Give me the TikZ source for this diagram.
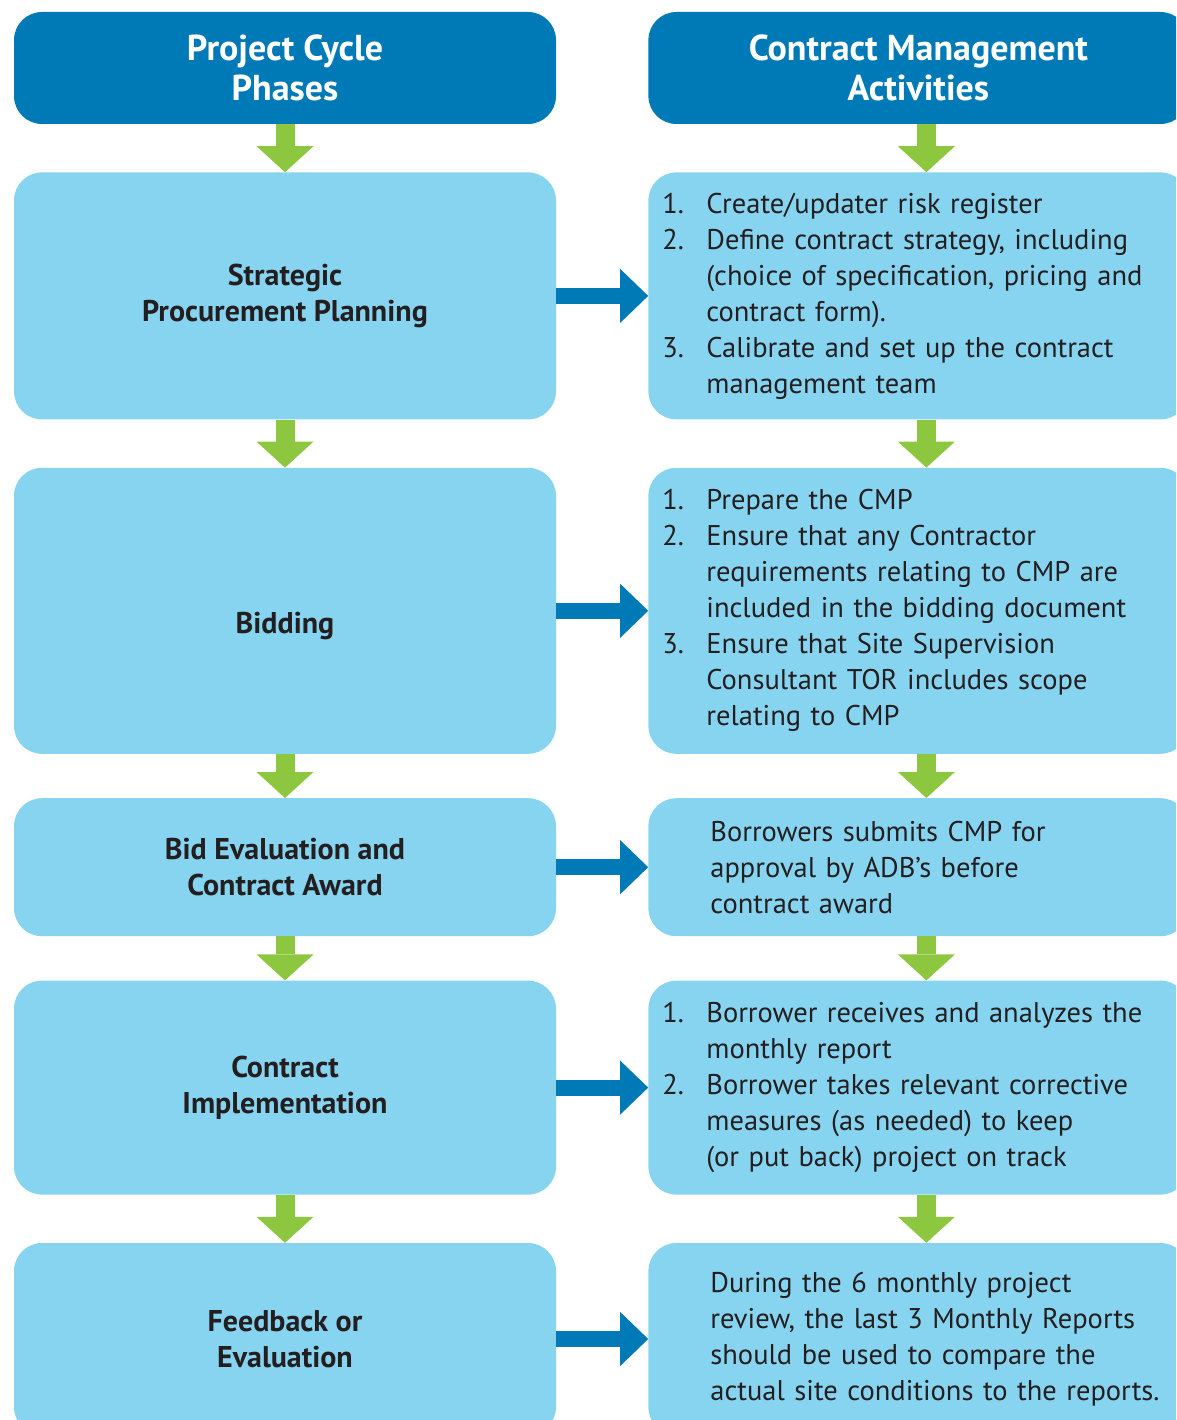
\documentclass[tikz,border=0pt]{standalone}
\usepackage{fontspec}
\setmainfont{PT Sans}
\usetikzlibrary{positioning, arrows.meta}

\definecolor{headblue}{RGB}{0,122,183}
\definecolor{boxblue}{RGB}{135,212,241}
\definecolor{flowgreen}{RGB}{141,198,63}
\definecolor{inkgray}{RGB}{35,31,32}

% Sangrías de las listas numeradas
\newcommand{\itemno}[1]{\makebox[44pt][l]{#1}}
\newcommand{\itemgap}{\hspace*{44pt}}
\newcommand{\plaingap}{\hspace*{48pt}}

\begin{document}
\begin{tikzpicture}[x=1pt, y=-1pt,
    head box/.style={
        fill=headblue, rounded corners=28pt, inner sep=0pt,
        minimum width=#1, minimum height=112pt, align=center,
        text=white, font=\fontsize{36}{40}\selectfont\bfseries
    },
    phase box/.style={
        fill=boxblue, rounded corners=28pt, inner sep=0pt,
        minimum width=542pt, minimum height=#1, align=center,
        text=inkgray, font=\fontsize{30}{36}\selectfont\bfseries
    },
    act box/.style={
        fill=boxblue, rounded corners=28pt, inner xsep=14pt, inner ysep=0pt,
        text width=512pt, minimum height=#1, align=left,
        text=inkgray, font=\fontsize{28.5}{36}\selectfont
    },
    down arrow/.style={draw=flowgreen, line width=19pt,
        -{Triangle[width=57pt, length=26pt, line width=0pt]}},
    side arrow/.style={draw=headblue, line width=16pt,
        -{Triangle[width=54pt, length=28pt, line width=0pt]}}
]

\useasboundingbox (0,0) rectangle (1176,1420);
\clip (0,0) rectangle (1176,1420);

% ------------------------------------------------------------------------------
% 1. ENCABEZADOS
% ------------------------------------------------------------------------------
\node[head box=542pt] (phead) at (285,68) {Project Cycle\\Phases};
\node[head box=540pt, right=92pt of phead] (ahead) {Contract Management\\Activities};

% ------------------------------------------------------------------------------
% 2. FASES DEL CICLO (columna izquierda)
% ------------------------------------------------------------------------------
\node[phase box=247pt, below=48pt of phead] (plan) {Strategic\\Procurement Planning};
\node[phase box=286pt, below=48pt of plan] (bid) {\raisebox{-15pt}[\height][\depth]{Bidding}};
\node[phase box=138pt, below=44pt of bid] (award) {Bid Evaluation and\\Contract Award};
\node[phase box=214pt, below=44pt of award] (impl) {Contract\\Implementation};
\node[phase box=192pt, below=48pt of impl] (fb) {Feedback or\\Evaluation};

% ------------------------------------------------------------------------------
% 3. ACTIVIDADES (columna derecha, alineada con cada fase)
% ------------------------------------------------------------------------------
\node[act box=247pt, right=92pt of plan] (risk) {%
    \itemno{1.}Create/updater risk register\\
    \itemno{2.}Define contract strategy, including\\
    \itemgap(choice of specification, pricing and\\
    \itemgap contract form).\\
    \itemno{3.}Calibrate and set up the contract\\
    \itemgap management team};
\node[act box=286pt, right=92pt of bid] (cmp) {%
    \itemno{1.}Prepare the CMP\\
    \itemno{2.}Ensure that any Contractor\\
    \itemgap requirements relating to CMP are\\
    \itemgap included in the bidding document\\
    \itemno{3.}Ensure that Site Supervision\\
    \itemgap Consultant TOR includes scope\\
    \itemgap relating to CMP};
\node[act box=138pt, right=92pt of award] (submit) {%
    \plaingap Borrowers submits CMP for\\
    \plaingap approval by ADB's before\\
    \plaingap contract award};
\node[act box=214pt, right=92pt of impl] (report) {%
    \itemno{1.}Borrower receives and analyzes the\\
    \itemgap monthly report\\
    \itemno{2.}Borrower takes relevant corrective\\
    \itemgap measures (as needed) to keep\\
    \itemgap(or put back) project on track};
\node[act box=192pt, right=92pt of fb] (review) {%
    \plaingap During the 6 monthly project\\
    \plaingap review, the last 3 Monthly Reports\\
    \plaingap should be used to compare the\\
    \plaingap actual site conditions to the reports.};

% ------------------------------------------------------------------------------
% 4. FLECHAS (bucles)
% ------------------------------------------------------------------------------
\foreach \a/\b in {phead/plan, plan/bid, bid/award, award/impl, impl/fb} {
    \draw[down arrow] (\a.south) -- (\b.north);
}
\foreach \a/\b in {ahead/risk, risk/cmp, cmp/submit, submit/report, report/review} {
    \draw[down arrow] ([xshift=8pt]\a.south) -- ([xshift=8pt]\b.north);
}
\foreach \a/\b in {plan/risk, bid/cmp, award/submit, impl/report, fb/review} {
    \draw[side arrow] (\a.east) -- (\b.west);
}

\end{tikzpicture}
\end{document}
